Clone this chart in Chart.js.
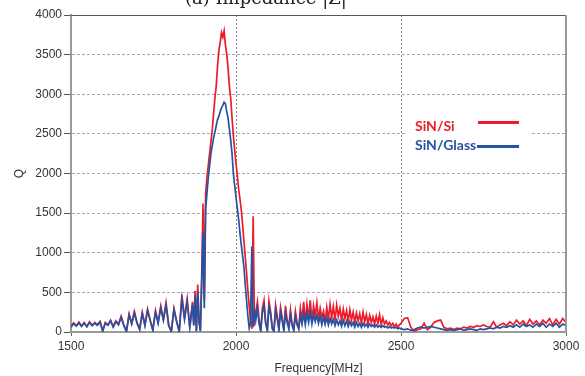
<!DOCTYPE html>
<html lang="en">
<head>
<meta charset="UTF-8">
<title>Q vs Frequency</title>
<script src="https://cdn.jsdelivr.net/npm/chart.js"></script>
<style>
html,body{margin:0;padding:0;background:#fff;}
#wrap{width:585px;height:376px;position:relative;}
</style>
</head>
<body>
<div id="wrap"><canvas id="qChart"></canvas></div>
<script>
// frequency segments (MHz)
var freqLow = [1500,1508,1516,1524,1532,1540,1548,1556,1564,1572,1580,1588,1596,1604,1612,1620,1628,1636,1644,1652,
    1660,1668,1676,1684,1692,1700,1708,1716,1724,1732,1740,1748,1756,1764,1772,1780,1788,1796,1804,1812,
    1820,1828,1836,1844,1852,1860,1868];
var freqPeak = [1872,1876,1880,1884,1888,1892,1896,1900,1904,1908,1912,1916,1920,1924,1928,1932,1936,1940,1944,1948,
    1952,1956,1960,1964,1968,1972,1976,1980,1984,1988,1992,1996,2000,2004,2008,2012,2016,2020,2024,2028,
    2032,2036,2040,2044,2048,2052,2056,2060];
var freqHigh = [2065,2070,2075,2080,2085,2090,2095,2100,2105,2110,2115,2120,2125,2130,2135,2140,2145,2150,2155,2160,
    2165,2170,2175,2180,2185,2190,2195,2200,2205,2210,2215,2220,2225,2230,2235,2240,2245,2250,2255,2260,
    2265,2270,2275,2280,2285,2290,2295,2300,2305,2310,2315,2320,2325,2330,2335,2340,2345,2350,2355,2360,
    2365,2370,2375,2380,2385,2390,2395,2400,2405,2410,2415,2420,2425,2430,2435,2440,2445,2450,2455,2460,
    2465,2470,2475,2480,2485,2490,2495,2500];
var freqTail = [2510,2520,2530,2540,2550,2560,2570,2580,2590,2600,2610,2620,2630,2640,2650,2660,2670,2680,2690,2700,
    2710,2720,2730,2740,2750,2760,2770,2780,2790,2800,2810,2820,2830,2840,2850,2860,2870,2880,2890,2900,
    2910,2920,2930,2940,2950,2960,2970,2980,2990,3000];

// SiN/Si
var siLow = [70,115,80,125,75,120,70,130,85,120,90,135,15,120,90,150,70,140,100,200,
    90,10,230,110,260,120,40,250,90,290,150,30,270,120,330,160,370,90,5,300,
    140,10,470,180,420,60,380];
var siPeak = [100,520,10,600,150,20,700,1620,400,1750,1950,2100,2250,2400,2550,2750,2950,3100,3350,3550,
    3650,3780,3720,3800,3620,3500,3330,3100,2950,2700,2480,2300,2120,1980,1800,1680,1540,1350,1150,950,
    750,520,330,150,40,1460,80,250];
var siHigh = [380,150,20,300,400,120,30,390,250,60,10,340,200,40,310,180,20,330,150,60,
    280,100,30,260,120,50,300,150,380,120,350,180,400,140,330,200,370,150,300,180,
    260,130,310,160,350,180,320,150,340,200,300,140,290,170,270,130,280,150,250,120,
    240,140,230,110,250,130,220,100,210,120,190,100,200,110,220,90,180,100,140,90,
    120,80,110,70,100,60,90,110];
var siTail = [170,180,60,10,30,40,110,30,60,120,140,150,60,40,50,30,50,40,60,50,
    70,60,80,70,90,70,60,130,60,90,110,80,130,90,150,100,140,80,160,100,
    140,90,150,110,170,90,160,100,170,120];

// SiN/Glass
var glassLow = [60,105,75,115,70,110,65,120,80,110,85,125,10,110,85,140,60,130,90,185,
    80,5,210,100,240,110,30,230,80,270,140,20,250,110,300,150,340,80,5,280,
    130,5,420,160,380,50,340];
var glassPeak = [80,450,10,520,120,10,600,1250,300,1550,1750,1950,2100,2250,2350,2450,2520,2600,2680,2720,
    2780,2830,2860,2900,2880,2780,2700,2560,2420,2250,2000,1850,1700,1560,1420,1250,1100,960,820,600,
    400,200,50,120,1080,60,250,150];
var glassHigh = [300,100,10,250,330,100,20,320,220,40,10,280,160,30,260,140,20,240,120,40,
    220,80,20,200,90,40,210,100,230,90,240,120,250,100,220,130,210,110,200,90,
    190,100,180,90,170,100,160,80,150,90,140,70,150,80,140,70,130,80,120,60,
    120,70,110,60,110,70,100,60,100,70,90,60,90,60,80,60,80,60,70,50,
    70,50,60,50,60,40,50,40];
var glassTail = [30,40,20,30,50,60,50,60,70,60,50,40,30,20,30,20,30,40,20,30,
    40,30,20,40,30,40,50,40,60,50,70,60,80,60,90,60,100,70,90,60,
    100,70,110,60,100,70,110,60,100,80];

var freq = freqLow.concat(freqPeak, freqHigh, freqTail);
var siQ = siLow.concat(siPeak, siHigh, siTail);
var glassQ = glassLow.concat(glassPeak, glassHigh, glassTail);

var xTicks = [1500, 2000, 2500, 3000];
var yTicks = [0, 500, 1000, 1500, 2000, 2500, 3000, 3500, 4000];

var redColor = '#ec1c28';
var blueColor = '#2553a3';

function toPoints(ys) {
    return freq.map(function (f, i) { return { x: f, y: ys[i] }; });
}

// frame, title and legend drawn on canvas
var extras = {
    id: 'extras',
    afterDraw: function (chart) {
        var ctx = chart.ctx;
        var a = chart.chartArea;
        ctx.save();
        // top + right frame
        ctx.strokeStyle = '#555';
        ctx.lineWidth = 1;
        ctx.beginPath();
        ctx.moveTo(a.left, a.top + 0.5);
        ctx.lineTo(a.right, a.top + 0.5);
        ctx.stroke();
        ctx.strokeStyle = '#999';
        ctx.lineWidth = 2;
        ctx.beginPath();
        ctx.moveTo(a.right, a.top);
        ctx.lineTo(a.right, a.bottom);
        ctx.stroke();

        // clipped panel title
        ctx.fillStyle = '#222';
        ctx.font = '18px "DejaVu Serif"';
        ctx.textAlign = 'left';
        ctx.textBaseline = 'alphabetic';
        ctx.fillText('(a) Impedance |Z|', 185, 4);

        // legend
        ctx.fillStyle = '#fff';
        ctx.fillRect(405, 112, 127, 44);
        ctx.font = 'bold 14px Lato';
        ctx.fillStyle = redColor;
        ctx.fillText('SiN/Si', 415, 131);
        ctx.fillStyle = blueColor;
        ctx.fillText('SiN/Glass', 415, 150);
        ctx.lineWidth = 3;
        ctx.strokeStyle = redColor;
        ctx.beginPath();
        ctx.moveTo(478, 122.5);
        ctx.lineTo(519, 122.5);
        ctx.stroke();
        ctx.strokeStyle = blueColor;
        ctx.beginPath();
        ctx.moveTo(477, 146.5);
        ctx.lineTo(519, 146.5);
        ctx.stroke();
        ctx.restore();
    }
};

function plain(v) { return String(v); }

new Chart(document.getElementById('qChart').getContext('2d'), {
    type: 'line',
    data: {
        datasets: [{
            label: 'SiN/Glass',
            data: toPoints(glassQ),
            borderColor: blueColor,
            borderWidth: 1.7,
            pointRadius: 0,
            tension: 0,
            order: 0
        }, {
            label: 'SiN/Si',
            data: toPoints(siQ),
            borderColor: redColor,
            borderWidth: 1.7,
            pointRadius: 0,
            tension: 0,
            order: 1
        }]
    },
    options: {
        responsive: true,
        maintainAspectRatio: false,
        animation: false,
        layout: { padding: { left: 0, right: 19, top: 15, bottom: 0 } },
        plugins: {
            legend: { display: false },
            tooltip: { enabled: false }
        },
        scales: {
            x: {
                type: 'linear',
                min: 1500,
                max: 3000,
                afterBuildTicks: function (scale) {
                    scale.ticks = xTicks.map(function (v) { return { value: v }; });
                },
                afterFit: function (scale) { scale.height = 44; },
                grid: {
                    color: function (c) { return (c.tick && (c.tick.value === 1500 || c.tick.value === 3000)) ? 'rgba(0,0,0,0)' : '#8a8a8a'; },
                    lineWidth: 1,
                    tickLength: 4,
                    tickColor: '#666',
                    tickBorderDash: []
                },
                border: { color: '#9a9a9a', width: 2, dash: [2, 2] },
                ticks: {
                    color: '#333',
                    padding: 3,
                    maxRotation: 0,
                    callback: plain,
                    font: { family: 'Liberation Sans', size: 12 }
                },
                title: {
                    display: true,
                    text: 'Frequency[MHz]',
                    color: '#333',
                    font: { family: 'Liberation Sans', size: 12 },
                    padding: { top: 4, bottom: 0 }
                }
            },
            y: {
                min: 0,
                max: 4000,
                afterBuildTicks: function (scale) {
                    scale.ticks = yTicks.map(function (v) { return { value: v }; });
                },
                afterFit: function (scale) { scale.width = 71; },
                grid: {
                    color: function (c) { return (c.tick && (c.tick.value === 0 || c.tick.value === 4000)) ? 'rgba(0,0,0,0)' : '#a8a8a8'; },
                    lineWidth: 1,
                    tickLength: 7,
                    tickColor: '#555',
                    tickBorderDash: []
                },
                border: { color: '#9a9a9a', width: 2, dash: [3, 2] },
                ticks: {
                    color: '#333',
                    padding: 2,
                    callback: plain,
                    font: { family: 'Liberation Sans', size: 12 }
                },
                title: {
                    display: true,
                    text: 'Q',
                    color: '#333',
                    font: { family: 'Liberation Sans', size: 12 },
                    padding: { top: 12, bottom: 0 }
                }
            }
        }
    },
    plugins: [extras]
});
</script>
</body>
</html>
